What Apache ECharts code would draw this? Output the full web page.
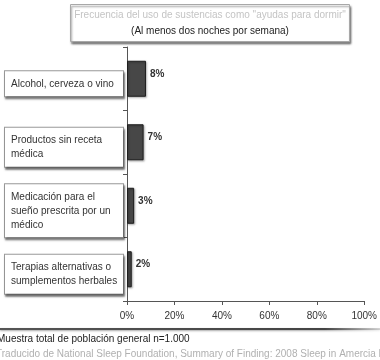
<!DOCTYPE html>
<html>
<head>
<meta charset="utf-8">
<script src="https://cdn.jsdelivr.net/npm/echarts@6/dist/echarts.min.js"></script>
<style>
  html, body { margin: 0; padding: 0; background: #fff; }
  #chart { width: 380px; height: 360px; }
</style>
</head>
<body>
<div id="chart"></div>
<script>
// Sleep-aid usage (at least two nights per week)
const categories = [
  'Alcohol, cerveza o vino',
  'Productos sin receta\nmédica',
  'Medicación para el\nsueño prescrita por un\nmédico',
  'Terapias alternativas o\nsumplementos herbales'
];
const shares = [8, 7, 3, 2];
const axisTicks = [0, 20, 40, 60, 80, 100];

const FONT = '"Liberation Sans", Arial, Helvetica, sans-serif';

const chart = echarts.init(document.getElementById('chart'), null, { renderer: 'canvas' });

const boxedLabel = {
  align: 'left',
  margin: 122,
  fontFamily: FONT,
  fontSize: 10,
  color: '#333',
  lineHeight: 14,
  width: 106,
  padding: [6, 6, 5, 6],
  backgroundColor: '#fff',
  borderColor: '#9a9a9a',
  borderWidth: 1,
  shadowColor: 'rgba(0,0,0,0.45)',
  shadowBlur: 2,
  shadowOffsetX: 1,
  shadowOffsetY: 2
};

chart.setOption({
  backgroundColor: '#ffffff',
  animation: false,
  title: {
    text: 'Frecuencia del uso de sustencias como "ayudas para dormir"',
    subtext: '(Al menos dos noches por semana)',
    left: 206,
    top: 4,
    padding: [4, 4, 4, 4],
    itemGap: 2,
    textAlign: 'center',
    borderColor: '#a8a8a8',
    borderWidth: 1,
    backgroundColor: '#fff',
    shadowColor: 'rgba(0,0,0,0.45)',
    shadowBlur: 2,
    shadowOffsetX: 1,
    shadowOffsetY: 2,
    textStyle: { fontFamily: FONT, fontSize: 10, fontWeight: 'normal', color: '#c4c4c4', lineHeight: 14 },
    subtextStyle: { fontFamily: FONT, fontSize: 10, color: '#222', lineHeight: 14 }
  },
  grid: [
    // plot area
    { left: 127, right: 13, top: 47, bottom: 59, containLabel: false },
    // the boxed category captions sit slightly lower than the bars
    { left: 127, right: 13, top: 52, bottom: 54, containLabel: false }
  ],
  xAxis: [
    {
      type: 'value',
      gridIndex: 0,
      min: axisTicks[0],
      max: axisTicks[axisTicks.length - 1],
      interval: axisTicks[1] - axisTicks[0],
      axisLine: { show: true, lineStyle: { color: '#555', width: 1 } },
      axisTick: { show: true, length: 4, lineStyle: { color: '#555' } },
      splitLine: { show: false },
      axisLabel: {
        formatter: '{value}%',
        fontFamily: FONT,
        fontSize: 10,
        color: '#333',
        margin: 10
      }
    },
    {
      type: 'value',
      gridIndex: 1,
      min: 0,
      max: 100,
      show: false
    }
  ],
  yAxis: [
    {
      type: 'category',
      gridIndex: 0,
      data: categories,
      inverse: true,
      axisLine: { show: true, lineStyle: { color: '#555', width: 1 } },
      axisTick: { show: true, length: 4, lineStyle: { color: '#555' } },
      axisLabel: { show: false }
    },
    {
      type: 'category',
      gridIndex: 1,
      data: categories,
      inverse: true,
      axisLine: { show: false },
      axisTick: { show: false },
      splitLine: { show: false },
      axisLabel: boxedLabel
    }
  ],
  series: [{
    type: 'bar',
    xAxisIndex: 0,
    yAxisIndex: 0,
    data: shares,
    barWidth: 36,
    itemStyle: {
      color: '#474747',
      borderColor: '#1e1e1e',
      borderWidth: 1,
      shadowColor: 'rgba(0,0,0,0.3)',
      shadowBlur: 2,
      shadowOffsetX: 1,
      shadowOffsetY: 1
    },
    label: {
      show: true,
      position: 'right',
      distance: 4,
      formatter: '{c}%',
      fontFamily: FONT,
      fontSize: 10,
      fontWeight: 'bold',
      color: '#333',
      offset: [0, -5]
    }
  }],
  graphic: [
    {
      type: 'line',
      shape: { x1: 0, y1: 329, x2: 380, y2: 329 },
      style: {
        lineWidth: 2,
        stroke: {
          type: 'linear', x: 0, y: 0, x2: 1, y2: 0,
          colorStops: [
            { offset: 0, color: '#555' },
            { offset: 0.85, color: '#444' },
            { offset: 1, color: 'rgba(90,90,90,0.2)' }
          ]
        },
        shadowColor: 'rgba(0,0,0,0.35)',
        shadowBlur: 2,
        shadowOffsetY: 1
      }
    },
    {
      type: 'text',
      left: -3,
      top: 334,
      style: {
        text: 'Muestra total de población general n=1.000',
        fontFamily: FONT,
        fontSize: 10,
        fill: '#222'
      }
    },
    {
      type: 'text',
      left: -4,
      top: 349,
      style: {
        text: 'Traducido de National Sleep Foundation, Summary of Finding: 2008 Sleep in Amercia Poll',
        fontFamily: FONT,
        fontSize: 10,
        fill: '#b0b0b0'
      }
    }
  ]
});
</script>
</body>
</html>
